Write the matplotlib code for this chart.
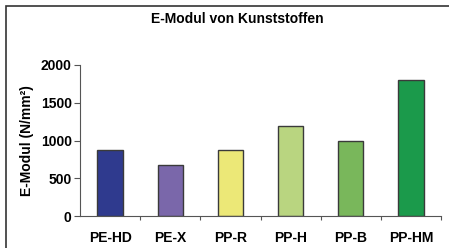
import matplotlib
matplotlib.use("Agg")
import matplotlib.pyplot as plt
from matplotlib.patches import Rectangle

categories = ["PE-HD", "PE-X", "PP-R", "PP-H", "PP-B", "PP-HM"]
values = [880, 670, 880, 1190, 1000, 1800]
colors = ["#2f3a8e", "#7a67aa", "#ece877", "#b9d580", "#79b75b", "#1b9a4b"]
yticks = [0, 500, 1000, 1500, 2000]

plt.rcParams['font.family'] = ['Liberation Sans', 'DejaVu Sans']
plt.rcParams['font.weight'] = 'bold'

W, H = 449, 248
fig = plt.figure(figsize=(W / 100, H / 100), dpi=100)

# frame around the picture (only top and left visible)
fig.patches.append(Rectangle((6 / W, -0.1), 1.2, 1 - 6 / H + 0.1,
                             transform=fig.transFigure, fill=False,
                             edgecolor="#333333", linewidth=1.2))

ax = fig.add_axes([80 / W, 1 - 216 / H, (441 - 80) / W, (216 - 65) / H])
x = range(len(categories))
ax.bar(x, values, width=0.42, color=colors, edgecolor="#3a3a3a", linewidth=1.0)

ax.set_xlim(-0.5, len(categories) - 0.5)
ax.set_ylim(0, 2000)
ax.set_yticks(yticks)
ax.set_yticklabels([str(v) for v in yticks], fontsize=10, fontweight='bold')
ax.set_xticks([i + 0.5 for i in range(len(categories))])
ax.set_xticklabels([])
ax.set_xticks(list(x), minor=True)
ax.set_xticklabels(categories, minor=True, fontsize=10, fontweight='bold')
ax.tick_params(axis='x', which='minor', length=0, pad=11)
ax.tick_params(axis='x', which='major', length=3, color="#555555")
ax.tick_params(axis='y', length=4, color="#555555", pad=2)

for s in ["top", "right"]:
    ax.spines[s].set_visible(False)
ax.spines["left"].set_color("#555555")
ax.spines["bottom"].set_color("#555555")

ax.set_ylabel("E-Modul (N/mm²)", fontsize=10, fontweight='bold', labelpad=5)
fig.text(237 / W, 1 - 19 / H, "E-Modul von Kunststoffen", ha="center", va="center",
         fontsize=10, fontweight='bold')

fig.savefig("out.png", dpi=100)
